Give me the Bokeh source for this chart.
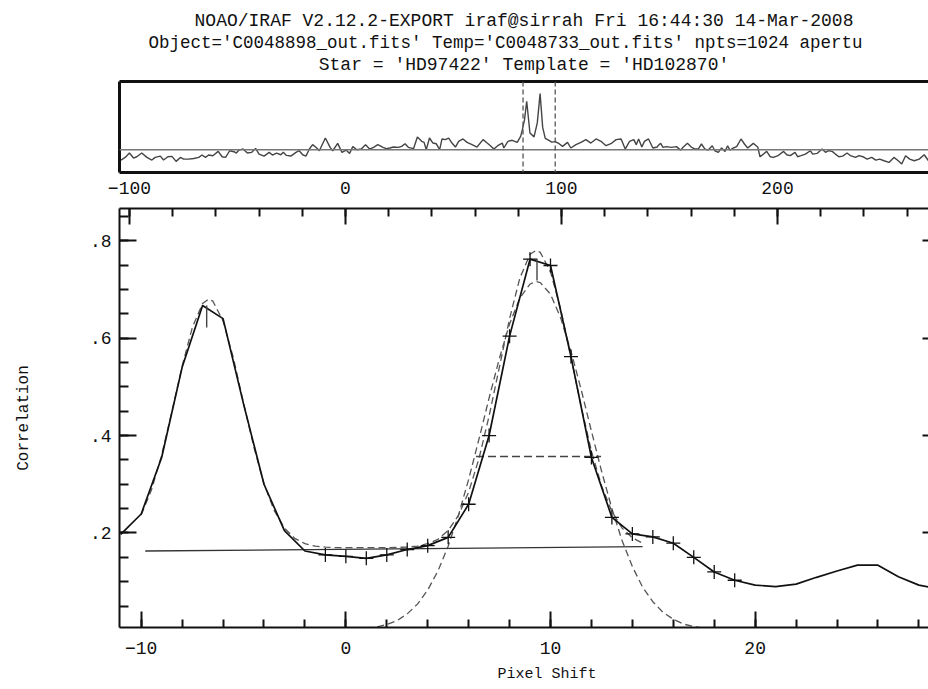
from bokeh.plotting import figure
from bokeh.layouts import column
from bokeh.models import (Range1d, LinearAxis, FixedTicker, CustomJSTickFormatter,
                          Span, Title)
from bokeh.embed import file_html
from bokeh.resources import INLINE

FONT = "Liberation Mono"

# ---------------- title texts ----------------
title_lines = [
    "NOAO/IRAF V2.12.2-EXPORT iraf@sirrah Fri 16:44:30 14-Mar-2008",
    "Object='C0048898_out.fits' Temp='C0048733_out.fits' npts=1024 apertu",
    "Star = 'HD97422' Template = 'HD102870'",
]
x_axis_label = "Pixel Shift"
y_axis_label = "Correlation"

# ---------------- upper panel: full correlation function ----------------
top_lag = [
    -103.9, -102.0, -100.0, -98.1, -96.6, -94.3, -91.9, -89.6, -88.1, -85.7,
    -84.2, -82.2, -80.3, -78.4, -76.4, -74.9, -72.6, -70.2, -67.9, -66.4,
    -64.8, -63.3, -61.4, -58.9, -57.1, -55.5, -53.6, -51.6, -50.5, -49.3,
    -47.4, -45.4, -43.4, -41.6, -40.0, -37.7, -35.3, -33.8, -31.9, -29.9,
    -28.8, -27.3, -25.3, -22.9, -21.4, -19.8, -18.3, -16.7, -15.2, -13.3,
    -12.1, -9.3, -7.1, -5.9, -3.6, -1.6, 0.3, 1.9, 3.4, 5.3,
    7.3, 9.3, 11.2, 13.0, 15.0, 17.4, 18.9, 20.6, 22.2, 24.5,
    26.0, 27.6, 29.1, 31.5, 33.3, 35.3, 36.4, 37.4, 38.9, 40.5,
    42.0, 43.6, 44.7, 46.2, 47.8, 49.3, 50.9, 52.4, 54.4, 56.3,
    58.6, 60.9, 63.7, 65.6, 67.1, 68.7, 70.5, 72.6, 73.3, 75.2,
    77.2, 79.5, 81.1, 81.9, 82.9, 83.9, 85.4, 87.3, 88.8, 90.1,
    91.3, 92.5, 94.0, 95.5, 97.1, 98.9, 100.5, 102.8, 104.3, 106.7,
    109.0, 111.3, 113.6, 116.0, 118.3, 120.6, 122.9, 125.3, 127.6, 129.5,
    131.5, 133.5, 134.6, 135.7, 137.2, 138.4, 140.3, 142.3, 144.3, 144.7,
    145.9, 147.0, 148.5, 150.9, 153.2, 155.2, 156.3, 158.3, 160.2, 162.0,
    163.3, 164.8, 166.4, 167.9, 169.8, 171.0, 172.6, 174.1, 175.7, 176.9,
    178.0, 179.5, 181.1, 183.1, 184.7, 186.2, 188.8, 190.9, 191.9, 193.5,
    195.0, 196.6, 198.1, 200.2, 202.8, 204.3, 205.9, 208.1, 209.3, 210.9,
    212.9, 215.2, 216.3, 218.3, 220.6, 222.2, 223.7, 225.3, 226.8, 228.4,
    230.2, 232.2, 233.8, 236.1, 237.7, 239.5, 241.5, 243.6, 245.5, 247.3,
    249.3, 251.6, 253.9, 255.9, 257.5, 259.3, 261.2, 263.3, 265.6, 267.9,
    269.9, 271.0,
]
top_corr = [
    0.056, 0.084, 0.130, 0.077, 0.091, 0.130, 0.084, 0.056, 0.084, 0.098,
    0.056, 0.091, 0.095, 0.042, 0.084, 0.066, 0.066, 0.073, 0.084, 0.109,
    0.084, 0.109, 0.102, 0.147, 0.091, 0.084, 0.154, 0.144, 0.130, 0.161,
    0.172, 0.130, 0.137, 0.179, 0.119, 0.098, 0.137, 0.109, 0.130, 0.112,
    0.137, 0.105, 0.098, 0.137, 0.154, 0.112, 0.098, 0.172, 0.218, 0.183,
    0.154, 0.288, 0.190, 0.154, 0.232, 0.137, 0.161, 0.126, 0.197, 0.165,
    0.172, 0.218, 0.172, 0.190, 0.218, 0.190, 0.176, 0.183, 0.193, 0.190,
    0.200, 0.228, 0.190, 0.176, 0.299, 0.253, 0.242, 0.165, 0.288, 0.235,
    0.228, 0.165, 0.278, 0.271, 0.288, 0.235, 0.193, 0.253, 0.278, 0.242,
    0.218, 0.193, 0.271, 0.235, 0.207, 0.172, 0.207, 0.235, 0.183, 0.253,
    0.264, 0.242, 0.306, 0.376, 0.482, 0.675, 0.341, 0.300, 0.447, 0.756,
    0.400, 0.285, 0.265, 0.245, 0.250, 0.228, 0.200, 0.242, 0.183, 0.218,
    0.242, 0.271, 0.235, 0.278, 0.253, 0.207, 0.228, 0.271, 0.278, 0.172,
    0.253, 0.271, 0.218, 0.278, 0.193, 0.253, 0.278, 0.183, 0.193, 0.207,
    0.232, 0.190, 0.197, 0.190, 0.197, 0.161, 0.190, 0.232, 0.190, 0.172,
    0.172, 0.225, 0.172, 0.161, 0.207, 0.154, 0.137, 0.183, 0.147, 0.207,
    0.161, 0.183, 0.197, 0.278, 0.225, 0.183, 0.232, 0.190, 0.091, 0.119,
    0.147, 0.091, 0.084, 0.102, 0.147, 0.112, 0.102, 0.137, 0.091, 0.102,
    0.119, 0.154, 0.119, 0.126, 0.172, 0.137, 0.154, 0.147, 0.119, 0.091,
    0.098, 0.130, 0.102, 0.084, 0.102, 0.091, 0.066, 0.084, 0.056, 0.066,
    0.049, 0.031, 0.084, 0.049, 0.014, 0.102, 0.066, 0.049, 0.066, 0.112,
    0.049, 0.031,
]
top_baseline = 0.165
window_lag = [82.2, 97.1]
top_major = [-100, 0, 100, 200]
top_minor = [-100, -80, -60, -40, -20, 0, 20, 40, 60, 80, 100, 120, 140,
             160, 180, 200, 220, 240, 260]

# ---------------- lower panel: zoom on the peaks ----------------
shift = list(range(-11, 30))
corr = [0.197, 0.239, 0.355, 0.540, 0.667, 0.640, 0.465, 0.300, 0.205, 0.163,
        0.155, 0.152, 0.148, 0.155, 0.166, 0.174, 0.191, 0.259, 0.400, 0.604,
        0.762, 0.749, 0.562, 0.355, 0.232, 0.198, 0.192, 0.179, 0.150, 0.120,
        0.103, 0.093, 0.090, 0.095, 0.109, 0.122, 0.134, 0.134, 0.110, 0.093,
        0.085]
fit_first, fit_last = -1, 19          # shifts marked with "+"

fitA_x = [-10, -9.5, -9, -8.5, -8, -7.5, -7, -6.7, -6.5, -6,
          -5.5, -5, -4.5, -4, -3.5, -3, -2.5, -2, -1.5, -1,
          -0.5, 0, 1, 2, 3, 3.5, 4, 4.5, 5, 5.5,
          6, 6.5, 7, 7.5, 8, 8.5, 9, 9.3, 9.5, 10,
          10.5, 11, 11.5, 12, 12.5, 13, 13.5, 14, 14.5]
fitA_y = [0.237, 0.288, 0.360, 0.449, 0.542, 0.622, 0.671, 0.680, 0.676, 0.635,
          0.560, 0.467, 0.377, 0.301, 0.246, 0.210, 0.189, 0.178, 0.173, 0.171,
          0.170, 0.170, 0.170, 0.170, 0.171, 0.173, 0.178, 0.187, 0.205, 0.236,
          0.284, 0.352, 0.440, 0.540, 0.640, 0.723, 0.772, 0.780, 0.776, 0.736,
          0.659, 0.561, 0.459, 0.368, 0.296, 0.244, 0.210, 0.190, 0.179]

fitB_x = [1, 1.5, 2, 2.5, 3, 3.5, 4, 4.5, 5, 5.5,
          6, 6.5, 7, 7.5, 8, 8.5, 9, 9.3, 9.5, 10,
          10.5, 11, 11.5, 12, 12.5, 13, 13.5, 14, 14.5, 15,
          15.5, 16, 16.5, 17, 17.5, 18]
fitB_y = [0.004, 0.007, 0.012, 0.020, 0.034, 0.054, 0.083, 0.122, 0.173, 0.236,
          0.310, 0.392, 0.477, 0.558, 0.629, 0.682, 0.711, 0.716, 0.714, 0.690,
          0.641, 0.573, 0.494, 0.409, 0.326, 0.250, 0.184, 0.131, 0.089, 0.059,
          0.037, 0.023, 0.013, 0.008, 0.004, 0.002]

baseline_x = [-9.8, 14.5]
baseline_y = [0.163, 0.172]
fwhm_x = [6.36, 12.47]
fwhm_y = [0.357, 0.357]
peak_x = [-6.8, 9.34]
peak_top = [0.667, 0.763]
peak_bottom = [0.622, 0.718]

x_major = [-10, 0, 10, 20]
x_minor = [-10, -8, -6, -4, -2, 0, 2, 4, 6, 8, 10, 12, 14, 16, 18, 20, 22, 24, 26, 28]
y_major = [0.2, 0.4, 0.6, 0.8]
y_major_labels = [".2", ".4", ".6", ".8"]
y_minor = [0.05, 0.1, 0.15, 0.2, 0.25, 0.3, 0.35, 0.4, 0.45, 0.5, 0.55, 0.6,
           0.65, 0.7, 0.75, 0.8, 0.85]

# ---------------- styling ----------------
W = 928
INK = "#111111"
LAG_RANGE = (-104.6, 269.9)
EMPTY = CustomJSTickFormatter(code="return ''")


def style_axis(ax, major_in, minor_in, labels=True, size="18px", standoff=8,
               line_width=2):
    ax.major_tick_in = major_in
    ax.major_tick_out = 0
    ax.minor_tick_in = minor_in
    ax.minor_tick_out = 0
    ax.major_tick_line_color = INK
    ax.minor_tick_line_color = INK
    ax.major_tick_line_width = 2
    ax.minor_tick_line_width = 2
    ax.axis_line_color = INK
    ax.axis_line_width = line_width
    ax.major_label_text_font = FONT
    ax.major_label_text_color = INK
    if labels:
        ax.major_label_text_font_size = size
        ax.major_label_standoff = standoff
    else:
        ax.formatter = EMPTY
        ax.major_label_text_font_size = "0px"
        ax.major_label_standoff = 0


def title(text, size, standoff, align="center", offset=0):
    return Title(text=text, align=align, offset=offset, standoff=standoff,
                 text_font=FONT, text_font_size=size, text_font_style="normal",
                 text_color=INK)


def bare(fig):
    fig.xgrid.grid_line_color = None
    fig.ygrid.grid_line_color = None
    fig.background_fill_color = "white"
    fig.border_fill_color = "white"
    fig.outline_line_color = None


# ---- header figure: the three IRAF title lines ----
hf = figure(width=W, height=77, x_range=Range1d(0, 1), y_range=Range1d(0, 1),
            output_backend="svg", toolbar_location=None,
            x_axis_location=None, y_axis_location=None,
            min_border_left=119, min_border_right=0,
            min_border_top=74, min_border_bottom=0)
bare(hf)
hf.add_layout(title(title_lines[2], "18px", 0), "above")
hf.add_layout(title(title_lines[1], "17.5px", 0, align="left", offset=29), "above")
hf.add_layout(title(title_lines[0], "18px", 0), "above")

# ---- upper figure ----
tf = figure(width=W, height=123, x_range=Range1d(*LAG_RANGE),
            y_range=Range1d(-0.075, 0.883), output_backend="svg",
            toolbar_location=None, y_axis_location=None,
            min_border_left=119, min_border_right=0,
            min_border_top=4, min_border_bottom=28)
bare(tf)
xa = tf.xaxis[0]
xa.ticker = FixedTicker(ticks=top_major, minor_ticks=[])
style_axis(xa, 0, 0, labels=True, size="18px", standoff=9, line_width=3)
for side in ("above", "left"):
    fr = LinearAxis(ticker=FixedTicker(ticks=[], minor_ticks=[]))
    style_axis(fr, 0, 0, labels=False, line_width=3)
    tf.add_layout(fr, side)

tf.add_layout(Span(location=top_baseline, dimension="width",
                   line_color="#777777", line_width=1.6))
for lag in window_lag:
    tf.add_layout(Span(location=lag, dimension="height", line_color="#555555",
                       line_width=1.3, line_dash="5 3"))
tf.line(top_lag, top_corr, line_color="#444444", line_width=1.4)

# ---- lower figure ----
mf = figure(width=W, height=489, x_range=Range1d(-11.06, 28.47),
            y_range=Range1d(0.006, 0.866), output_backend="svg",
            toolbar_location=None,
            min_border_left=119, min_border_right=0,
            min_border_top=8, min_border_bottom=62)
bare(mf)

bx = mf.xaxis[0]
bx.ticker = FixedTicker(ticks=x_major, minor_ticks=x_minor)
style_axis(bx, 16, 8, labels=True, size="18px", standoff=14)

ly = mf.yaxis[0]
ly.ticker = FixedTicker(ticks=y_major, minor_ticks=y_minor)
ly.major_label_overrides = dict(zip(y_major, y_major_labels))
style_axis(ly, 17, 9, labels=True, size="18px", standoff=8)
ly.axis_label = y_axis_label
ly.axis_label_text_font = FONT
ly.axis_label_text_font_size = "16px"
ly.axis_label_text_font_style = "normal"
ly.axis_label_text_color = INK
ly.axis_label_standoff = 54

mf.extra_x_ranges = {"lag": Range1d(*LAG_RANGE)}
ta = LinearAxis(x_range_name="lag",
                ticker=FixedTicker(ticks=top_major, minor_ticks=top_minor))
style_axis(ta, 16, 8, labels=False)
mf.add_layout(ta, "above")

ra = LinearAxis(ticker=FixedTicker(ticks=y_major, minor_ticks=[]))
style_axis(ra, 6, 0, labels=False)
ra.axis_line_color = None
mf.add_layout(ra, "right")

# x label placed like the IRAF plot (left of centre of the cropped frame)
mf.add_layout(title(x_axis_label, "15px", 14, align="left", offset=378), "below")

# fits and markers
mf.line(fitB_x, fitB_y, line_color="#555555", line_width=1.3, line_dash="7 4")
mf.line(fitA_x, fitA_y, line_color="#555555", line_width=1.3, line_dash="7 4")
mf.line(fwhm_x, fwhm_y, line_color="#444444", line_width=1.4, line_dash="8 4")
mf.line(baseline_x, baseline_y, line_color="#333333", line_width=1.3)
mf.line(shift, corr, line_color=INK, line_width=1.7)
i0, i1 = shift.index(fit_first), shift.index(fit_last) + 1
mf.scatter(shift[i0:i1], corr[i0:i1], marker="cross", size=14,
           line_color=INK, line_width=1.3)
mf.segment(x0=peak_x, y0=peak_top, x1=peak_x, y1=peak_bottom,
           line_color="#444444", line_width=1.4)

layout = column(hf, tf, mf, spacing=0)
with open("out.html", "w") as f:
    f.write(file_html(layout, INLINE))
